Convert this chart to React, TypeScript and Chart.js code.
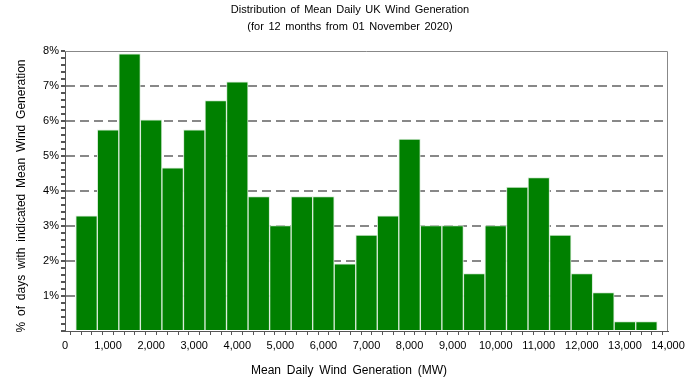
import React, { useEffect, useRef } from "react";
import { Chart, registerables } from "chart.js";

Chart.register(...registerables);

const TITLE_LINES = [
  "Distribution of Mean Daily UK Wind Generation",
  "(for 12 months from 01 November 2020)",
];
const X_TITLE = "Mean Daily Wind Generation (MW)";
const Y_TITLE = "% of days with indicated Mean Wind Generation";

const binCentres = [
  500, 1000, 1500, 2000, 2500, 3000, 3500, 4000, 4500, 5000, 5500, 6000, 6500,
  7000, 7500, 8000, 8500, 9000, 9500, 10000, 10500, 11000, 11500, 12000, 12500,
  13000, 13500,
];
const percentDays = [
  3.29, 5.75, 7.92, 6.03, 4.66, 5.75, 6.58, 7.12, 3.84, 3.01, 3.84, 3.84, 1.92,
  2.74, 3.29, 5.48, 3.01, 3.01, 1.64, 3.01, 4.11, 4.38, 2.74, 1.64, 1.1, 0.27,
  0.27,
];

const X_MIN = 0;
const X_MAX = 14000;
const Y_MIN = 0;
const Y_MAX = 8;

const FONT = "'Liberation Sans', Arial, sans-serif";

const isInt = (v: number) => Math.abs(v - Math.round(v)) < 1e-6;

const frame = {
  id: "frame",
  afterDatasetsDraw(chart: any) {
    const { ctx, chartArea: a } = chart;
    ctx.save();
    ctx.strokeStyle = "#888";
    ctx.lineWidth = 1;
    ctx.beginPath();
    ctx.moveTo(a.left, a.top + 0.5);
    ctx.lineTo(a.right - 0.5, a.top + 0.5);
    ctx.lineTo(a.right - 0.5, a.bottom);
    ctx.stroke();
    ctx.restore();
  },
};

const texts = {
  id: "texts",
  afterDraw(chart: any) {
    const { ctx, width } = chart;
    ctx.save();
    ctx.fillStyle = "#000";
    ctx.textAlign = "center";
    ctx.textBaseline = "middle";
    (ctx as any).wordSpacing = "1.5px";
    ctx.font = `11px ${FONT}`;
    ctx.fillText(TITLE_LINES[0], width / 2, 10);
    ctx.fillText(TITLE_LINES[1], width / 2, 27);
    (ctx as any).wordSpacing = "2.5px";
    ctx.font = `12px ${FONT}`;
    ctx.fillText(X_TITLE, width / 2 - 1, 371);
    ctx.translate(22, 196);
    ctx.rotate(-Math.PI / 2);
    ctx.fillText(Y_TITLE, 0, 0);
    ctx.restore();
  },
};

export default function App() {
  const ref = useRef<HTMLCanvasElement>(null);
  useEffect(() => {
    document.body.style.margin = "0";
    const chart = new Chart(ref.current!, {
      type: "bar",
      data: {
        datasets: [
          {
            data: binCentres.map((x, i) => ({ x, y: percentDays[i] })),
            backgroundColor: "#008000",
            borderColor: "#d8ecd8",
            borderWidth: 1,
            barThickness: "flex",
            barPercentage: 1,
            categoryPercentage: 1,
          },
        ],
      },
      options: {
        animation: false,
        responsive: false,
        layout: { padding: { left: 0, right: 32, top: 51, bottom: 0 } },
        plugins: {
          legend: { display: false },
          tooltip: { enabled: false },
          title: { display: false },
        },
        scales: {
          x: {
            type: "linear",
            min: X_MIN,
            max: X_MAX,
            offset: false,
            afterFit: (s: any) => {
              s.height = 53;
            },
            ticks: {
              stepSize: 250,
              autoSkip: false,
              maxRotation: 0,
              color: "#000",
              font: { family: FONT, size: 11 },
              padding: 4,
              callback: (v: any) =>
                Number(v) % 1000 === 0 ? Number(v).toLocaleString("en-US") : "",
            },
            grid: {
              drawOnChartArea: false,
              tickLength: 4,
              tickColor: "#555",
              color: "#555",
            },
            border: { color: "#555", width: 1 },
          },
          y: {
            min: Y_MIN,
            max: Y_MAX,
            afterFit: (s: any) => {
              s.width = 65;
            },
            ticks: {
              stepSize: 0.2,
              autoSkip: false,
              color: "#000",
              font: { family: FONT, size: 11 },
              padding: 2,
              callback: (v: any) => {
                const n = Number(v);
                return isInt(n) && Math.round(n) !== 0 ? `${Math.round(n)}%` : "";
              },
            },
            grid: {
              tickLength: 4,
              tickColor: "#555",
              lineWidth: 2,
              color: (c: any) => {
                const v = c.tick ? c.tick.value : 0;
                return isInt(v) && Math.round(v) !== 0 && Math.round(v) !== 8
                  ? "#888"
                  : "rgba(0,0,0,0)";
              },
            },
            border: { color: "#555", width: 1, dash: [9, 5] },
          },
        },
      },
      plugins: [frame, texts],
    } as any);
    return () => chart.destroy();
  }, []);
  return (
    <div style={{ width: 700, height: 384 }}>
      <canvas ref={ref} width={700} height={384} style={{ display: "block" }} />
    </div>
  );
}
